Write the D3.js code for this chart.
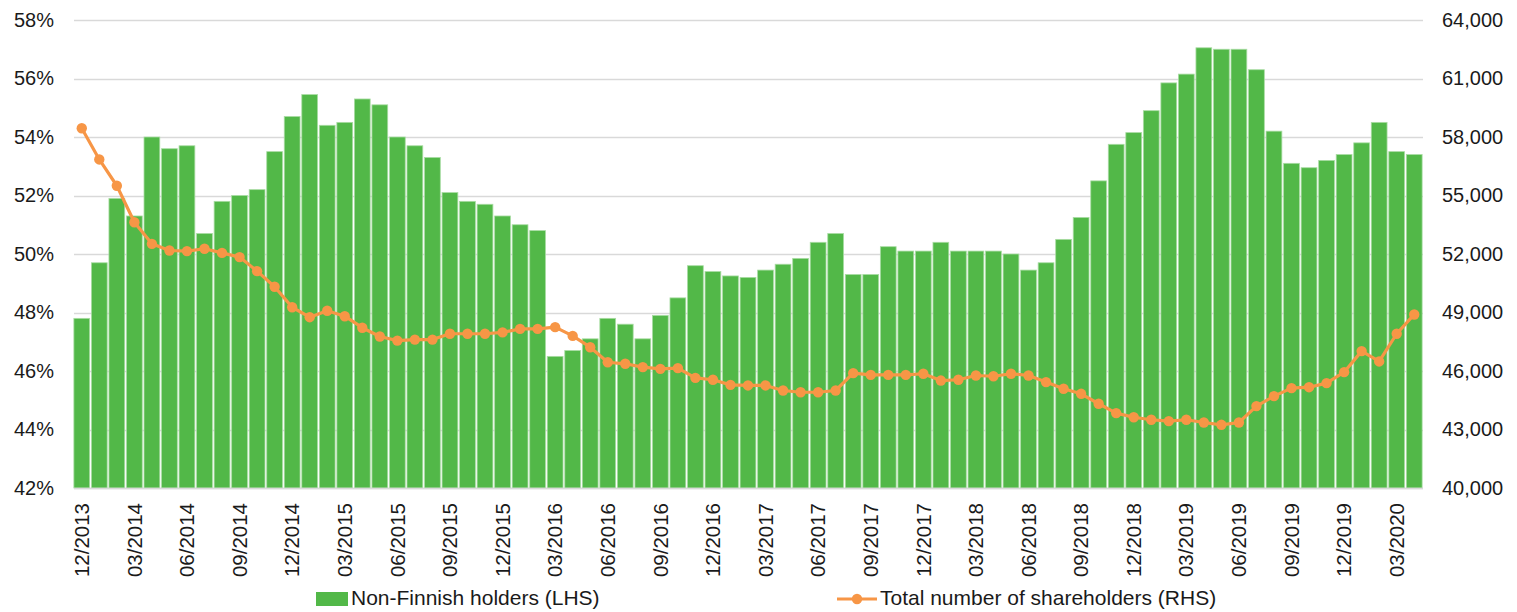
<!DOCTYPE html>
<html>
<head>
<meta charset="utf-8">
<script src="https://cdn.jsdelivr.net/npm/d3@7"></script>
<style>
  html, body { margin: 0; padding: 0; background: #fff; }
  svg { display: block; font-family: Arial, "Liberation Sans", sans-serif; }
</style>
</head>
<body>
<svg id="chart" width="1517" height="612"></svg>
<script>
// Month-end observations, 12/2013 – 04/2020
const months = [
  "12/2013","01/2014","02/2014","03/2014","04/2014","05/2014","06/2014","07/2014","08/2014","09/2014","10/2014","11/2014",
  "12/2014","01/2015","02/2015","03/2015","04/2015","05/2015","06/2015","07/2015","08/2015","09/2015","10/2015","11/2015",
  "12/2015","01/2016","02/2016","03/2016","04/2016","05/2016","06/2016","07/2016","08/2016","09/2016","10/2016","11/2016",
  "12/2016","01/2017","02/2017","03/2017","04/2017","05/2017","06/2017","07/2017","08/2017","09/2017","10/2017","11/2017",
  "12/2017","01/2018","02/2018","03/2018","04/2018","05/2018","06/2018","07/2018","08/2018","09/2018","10/2018","11/2018",
  "12/2018","01/2019","02/2019","03/2019","04/2019","05/2019","06/2019","07/2019","08/2019","09/2019","10/2019","11/2019",
  "12/2019","01/2020","02/2020","03/2020","04/2020"
];

// Share of non-Finnish holders, % (left axis)
const nonFinnishPct = [
  47.8, 49.7, 51.9, 51.3, 54.0, 53.6, 53.7, 50.7, 51.8, 52.0, 52.2, 53.5,
  54.7, 55.45, 54.4, 54.5, 55.3, 55.1, 54.0, 53.7, 53.3, 52.1, 51.8, 51.7,
  51.3, 51.0, 50.8, 46.5, 46.7, 47.1, 47.8, 47.6, 47.1, 47.9, 48.5, 49.6,
  49.4, 49.25, 49.2, 49.45, 49.65, 49.85, 50.4, 50.7, 49.3, 49.3, 50.25, 50.1,
  50.1, 50.4, 50.1, 50.1, 50.1, 50.0, 49.45, 49.7, 50.5, 51.25, 52.5, 53.75,
  54.15, 54.9, 55.85, 56.15, 57.05, 57.0, 57.0, 56.3, 54.2, 53.1, 52.95, 53.2,
  53.4, 53.8, 54.5, 53.5, 53.4
];

// Total number of shareholders (right axis)
const shareholders = [
  58450, 56850, 55500, 53630, 52520, 52180, 52150, 52270, 52060, 51840, 51120, 50320,
  49270, 48760, 49090, 48810, 48220, 47770, 47560, 47610, 47610, 47910, 47910, 47910,
  47980, 48160, 48160, 48250, 47800, 47220, 46450, 46370, 46200, 46110, 46150, 45650,
  45550, 45290, 45260, 45260, 45000, 44910, 44910, 45000, 45890, 45800, 45800, 45800,
  45860, 45510, 45550, 45770, 45730, 45860, 45770, 45430, 45090, 44830, 44320, 43840,
  43630, 43500, 43430, 43500, 43360, 43240, 43360, 44200, 44710, 45120, 45170, 45380,
  45940, 47020, 46490, 47910, 48900
];

const pctTicks = [42, 44, 46, 48, 50, 52, 54, 56, 58];
const countTicks = [40000, 43000, 46000, 49000, 52000, 55000, 58000, 61000, 64000];

const barLabel = "Non-Finnish holders (LHS)";
const lineLabel = "Total number of shareholders (RHS)";

const GREEN = "#52b848";
const ORANGE = "#f79646";
const GRID = "#d9d9d9";

const svg = d3.select("#chart");
const plot = { left: 74, right: 1423, top: 20, bottom: 488 };

const x = d3.scaleBand()
  .domain(months)
  .range([plot.left - 1, plot.right])
  .paddingInner(0.1)
  .paddingOuter(0.05);

const yL = d3.scaleLinear().domain([42, 58]).range([plot.bottom, plot.top]);
const yR = d3.scaleLinear().domain([40000, 64000]).range([plot.bottom, plot.top]);

// Horizontal gridlines
svg.append("g")
  .selectAll("line")
  .data(pctTicks)
  .join("line")
  .attr("x1", plot.left)
  .attr("x2", plot.right)
  .attr("y1", d => Math.round(yL(d)) + 0.5)
  .attr("y2", d => Math.round(yL(d)) + 0.5)
  .attr("stroke", GRID)
  .attr("stroke-width", 1.3);

// Left axis (percent)
const leftAxis = d3.axisLeft(yL).tickValues(pctTicks).tickFormat(d => d + "%").tickSize(0).tickPadding(0);
svg.append("g")
  .attr("transform", `translate(${plot.left - 20},0)`)
  .call(leftAxis)
  .call(g => g.select(".domain").remove())
  .selectAll("text")
  .attr("font-size", 20)
  .attr("fill", "#1a1a1a");

// Right axis (number of shareholders)
const rightAxis = d3.axisRight(yR).tickValues(countTicks).tickFormat(d3.format(",")).tickSize(0).tickPadding(0);
svg.append("g")
  .attr("transform", `translate(${plot.right + 19},0)`)
  .call(rightAxis)
  .call(g => g.select(".domain").remove())
  .selectAll("text")
  .attr("font-size", 20)
  .attr("fill", "#1a1a1a");

// Bars
svg.append("g")
  .selectAll("rect")
  .data(nonFinnishPct)
  .join("rect")
  .attr("x", (d, i) => x(months[i]))
  .attr("width", x.bandwidth())
  .attr("y", d => yL(d))
  .attr("height", d => yL(42) - yL(d))
  .attr("fill", GREEN)
  .attr("stroke", "#a9dca3")
  .attr("stroke-width", 0.8);

// Category axis line
svg.append("line")
  .attr("x1", plot.left).attr("x2", plot.right)
  .attr("y1", plot.bottom + 0.5).attr("y2", plot.bottom + 0.5)
  .attr("stroke", GRID).attr("stroke-width", 1.5);

// Quarterly category labels, rotated
const xAxis = d3.axisBottom(x)
  .tickValues(months.filter((m, i) => i % 3 === 0))
  .tickSize(0)
  .tickPadding(0);
svg.append("g")
  .attr("transform", `translate(0,${plot.bottom})`)
  .call(xAxis)
  .call(g => g.select(".domain").remove())
  .selectAll("text")
  .attr("font-size", 20.5)
  .attr("fill", "#1a1a1a")
  .attr("text-anchor", "end")
  .attr("transform", "translate(0,15) rotate(-90)")
  .attr("x", 0)
  .attr("y", 0)
  .attr("dy", "0.35em");

// Shareholder line with markers
const cx = i => x(months[i]) + x.bandwidth() / 2;
const line = d3.line().x((d, i) => cx(i)).y(d => yR(d));
svg.append("path")
  .datum(shareholders)
  .attr("d", line)
  .attr("fill", "none")
  .attr("stroke", ORANGE)
  .attr("stroke-width", 3.2)
  .attr("stroke-linejoin", "round");
svg.append("g")
  .selectAll("circle")
  .data(shareholders)
  .join("circle")
  .attr("cx", (d, i) => cx(i))
  .attr("cy", d => yR(d))
  .attr("r", 5.2)
  .attr("fill", ORANGE);

// Legend
const legend = svg.append("g").attr("font-size", 21).attr("fill", "#1a1a1a");
legend.append("rect")
  .attr("x", 316).attr("y", 592).attr("width", 32).attr("height", 14)
  .attr("fill", GREEN);
legend.append("text")
  .attr("x", 351).attr("y", 598).attr("dy", "0.35em")
  .text(barLabel);
legend.append("line")
  .attr("x1", 837).attr("x2", 877).attr("y1", 599).attr("y2", 599)
  .attr("stroke", ORANGE).attr("stroke-width", 3.2);
legend.append("circle")
  .attr("cx", 857).attr("cy", 599).attr("r", 5.2).attr("fill", ORANGE);
legend.append("text")
  .attr("x", 880).attr("y", 598).attr("dy", "0.35em")
  .text(lineLabel);
</script>
</body>
</html>
